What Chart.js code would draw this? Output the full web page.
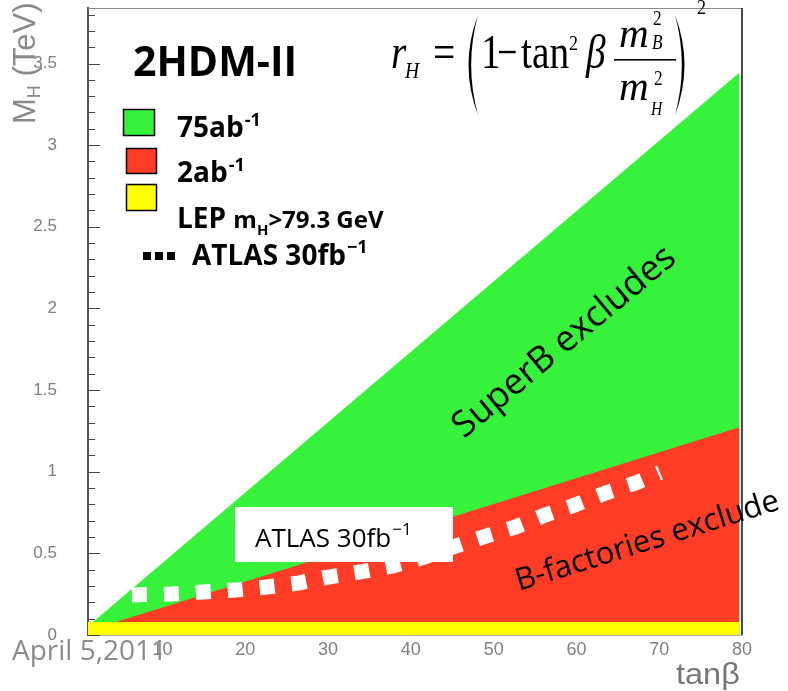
<!DOCTYPE html>
<html>
<head>
<meta charset="utf-8">
<script src="https://cdn.jsdelivr.net/npm/chart.js@4.4.0/dist/chart.umd.min.js"></script>
<style>
  html, body { margin: 0; padding: 0; background: #fff; }
</style>
</head>
<body>
<canvas id="chart" width="788" height="691"></canvas>
<script>
// axis ticks
const xTicks = [10, 20, 30, 40, 50, 60, 70, 80];
const yTicks = [0, 0.5, 1, 1.5, 2, 2.5, 3, 3.5];

// exclusion edges, M_H (TeV) vs tan(beta)
const edgeX = [0, 79.7];
const superBY = [0.01, 3.445]; // 75 ab^-1
const bFactY = [0.01, 1.273];  // 2 ab^-1
const lepX = [1, 79.7];
const lepY = [0.0793, 0.0793]; // LEP m_H > 79.3 GeV

// ATLAS 30 fb^-1 (dashed)
const atlasX = [6.3, 11.0, 14.9, 18.8, 22.6, 26.4, 30.0, 33.9, 37.7, 41.5, 45.1, 48.7, 52.6, 56.2, 59.8, 63.5, 67.1, 70.1];
const atlasY = [0.245, 0.251, 0.263, 0.275, 0.294, 0.318, 0.355, 0.386, 0.422, 0.475, 0.539, 0.600, 0.661, 0.734, 0.796, 0.869, 0.930, 0.995];

const GREEN = "#36f23a";
const RED = "#ff3c26";
const YELLOW = "#ffff00";
const SANS = '"Open Sans", "Noto Sans", sans-serif';
const SERIF = '"Liberation Serif", "DejaVu Serif", serif';

const pts = (xs, ys) => xs.map((x, i) => ({ x, y: ys[i] }));

function txt(ctx, s, x, y, font, color) {
  ctx.font = font;
  ctx.fillStyle = color || "#000";
  ctx.fillText(s, x, y);
  return x + ctx.measureText(s).width;
}

function serifPut(ctx, s, x, y, size, italic, sx) {
  ctx.save();
  ctx.font = (italic ? "italic " : "") + size + "px " + SERIF;
  ctx.translate(x, y);
  ctx.scale(sx || 0.82, 1);
  ctx.fillText(s, 0, 0);
  ctx.restore();
}

function paren(ctx, x0, bulge, top, bot) {
  const mid = (top + bot) / 2;
  ctx.beginPath();
  ctx.moveTo(x0, top);
  ctx.quadraticCurveTo(x0 + bulge, mid, x0, bot);
  ctx.quadraticCurveTo(x0 + bulge * 0.72, mid, x0, top);
  ctx.fill();
}

const decor = {
  id: "decor",
  afterDraw(chart) {
    const { ctx, chartArea: a, scales } = chart;
    const ys = scales.y;
    ctx.save();
    ctx.textAlign = "left";
    ctx.textBaseline = "alphabetic";

    // frame
    ctx.strokeStyle = "#888";
    ctx.lineWidth = 1;
    ctx.beginPath();
    ctx.moveTo(a.left, a.top + 0.5);
    ctx.lineTo(a.right, a.top + 0.5);
    ctx.stroke();
    ctx.strokeStyle = "#111";
    ctx.lineWidth = 1.5;
    ctx.beginPath();
    ctx.moveTo(a.right, a.top);
    ctx.lineTo(a.right, a.bottom);
    ctx.stroke();

    // inward y ticks
    ctx.strokeStyle = "#444";
    ctx.lineWidth = 1;
    for (let i = 0; i <= 38; i++) {
      const y = Math.round(ys.getPixelForValue(i / 10)) + 0.5;
      const len = i % 5 === 0 ? 12 : 7;
      ctx.beginPath();
      ctx.moveTo(a.left, y);
      ctx.lineTo(a.left + len, y);
      ctx.stroke();
    }

    // formula
    ctx.fillStyle = "#000";
    serifPut(ctx, "r", 391, 68, 48, true);
    serifPut(ctx, "H", 405, 78, 24, true);
    serifPut(ctx, "=", 433, 68, 48, false);
    paren(ctx, 478, -19, 15, 115);
    serifPut(ctx, "1", 481, 68, 48, false);
    serifPut(ctx, "\u2212", 497, 68, 48, false, 0.75);
    serifPut(ctx, "tan", 521, 68, 48, false);
    serifPut(ctx, "2", 569, 50, 22, false);
    serifPut(ctx, "\u03b2", 586, 68, 48, true);
    serifPut(ctx, "m", 619, 47, 42, true, 0.98);
    serifPut(ctx, "2", 653, 25, 21, false);
    serifPut(ctx, "B", 652, 49, 21, true);
    ctx.fillRect(614, 59, 62, 1.6);
    serifPut(ctx, "m", 619, 100, 42, true, 0.98);
    serifPut(ctx, "2", 654, 85, 21, false);
    serifPut(ctx, "H", 651, 115, 19, true);
    paren(ctx, 675, 19, 15, 115);
    serifPut(ctx, "2", 697, 14, 22, false);

    // title
    txt(ctx, "2HDM-II", 133, 76, "bold 41px " + SANS);

    // legend
    const box = (x, y, w, h, c) => {
      ctx.fillStyle = c;
      ctx.fillRect(x, y, w, h);
      ctx.strokeStyle = "#000";
      ctx.lineWidth = 1.5;
      ctx.strokeRect(x, y, w, h);
    };
    box(123.5, 109.5, 31, 26, GREEN);
    box(126.5, 148.5, 30, 25, RED);
    box(126.5, 184.5, 30, 26, YELLOW);
    let x = txt(ctx, "75ab", 177, 137, "bold 28px " + SANS);
    txt(ctx, "-1", x + 1, 126, "bold 18px " + SANS);
    x = txt(ctx, "2ab", 177, 182, "bold 28px " + SANS);
    txt(ctx, "-1", x + 1, 171, "bold 18px " + SANS);
    x = txt(ctx, "LEP ", 177, 228, "bold 28px " + SANS);
    x = txt(ctx, "m", x, 228, "bold 24px " + SANS);
    x = txt(ctx, "H", x, 235, "bold 15px " + SANS);
    txt(ctx, ">79.3 GeV", x, 228, "bold 24px " + SANS);
    ctx.fillStyle = "#000";
    ctx.fillRect(143, 252, 8, 8);
    ctx.fillRect(155, 252, 8, 8);
    ctx.fillRect(167, 252, 8, 8);
    x = txt(ctx, "ATLAS 30fb", 192, 265, "bold 28px " + SANS);
    txt(ctx, "\u22121", x + 1, 253, "bold 18px " + SANS);

    // ATLAS box in plot
    ctx.fillStyle = "#fff";
    ctx.fillRect(235, 507, 218, 55);
    x = txt(ctx, "ATLAS 30fb", 255, 547, "26px " + SANS);
    txt(ctx, "\u22121", x + 1, 535, "17px " + SANS);

    // rotated region labels
    ctx.textAlign = "center";
    ctx.save();
    ctx.translate(571, 350);
    ctx.rotate(-39.8 * Math.PI / 180);
    txt(ctx, "SuperB excludes", 0, 0, "36px " + SANS);
    ctx.restore();
    ctx.save();
    ctx.translate(650, 550);
    ctx.rotate(-17.4 * Math.PI / 180);
    txt(ctx, "B-factories exclude", 0, 0, "31px " + SANS);
    ctx.restore();
    ctx.textAlign = "left";

    // axis titles
    ctx.save();
    ctx.translate(35, 124);
    ctx.rotate(-Math.PI / 2);
    x = txt(ctx, "M", 0, 0, '31px "Liberation Sans", sans-serif', "#8a8a8a");
    x = txt(ctx, "H", x, 5, '18px "Liberation Sans", sans-serif', "#8a8a8a");
    txt(ctx, " (TeV)", x, 0, '31px "Liberation Sans", sans-serif', "#8a8a8a");
    ctx.restore();
    ctx.save();
    ctx.translate(676, 684);
    ctx.scale(1.12, 1);
    txt(ctx, "tan\u03b2", 0, 0, '29px "Liberation Sans", sans-serif', "#777");
    ctx.restore();

    // date stamp
    txt(ctx, "April 5,2011", 12, 660, "28px " + SANS, "#8c8c8c");
    ctx.restore();
  }
};

new Chart(document.getElementById("chart"), {
  type: "line",
  data: {
    datasets: [
      { label: "LEP", data: pts(lepX, lepY), fill: "origin", backgroundColor: YELLOW,
        borderColor: "rgba(0,0,0,0)", borderWidth: 0, pointRadius: 0 },
      { label: "ATLAS 30fb-1", data: pts(atlasX, atlasY), fill: false, borderColor: "#fff",
        borderWidth: 15, borderDash: [15, 17], borderCapStyle: "butt", pointRadius: 0 },
      { label: "2ab-1", data: pts(edgeX, bFactY), fill: "origin", backgroundColor: RED,
        borderColor: "rgba(0,0,0,0)", borderWidth: 0, pointRadius: 0 },
      { label: "75ab-1", data: pts(edgeX, superBY), fill: "origin", backgroundColor: GREEN,
        borderColor: "rgba(0,0,0,0)", borderWidth: 0, pointRadius: 0 }
    ]
  },
  options: {
    responsive: false,
    animation: false,
    layout: { autoPadding: false, padding: { top: 8, right: 46, left: 0, bottom: 0 } },
    plugins: { legend: { display: false }, tooltip: { enabled: false } },
    scales: {
      x: {
        type: "linear", min: 1, max: 80,
        grid: { display: false, drawTicks: false },
        border: { display: true, color: "#b0b0b0", width: 1 },
        ticks: { color: "#808080", font: { family: "Liberation Sans", size: 18 }, padding: 4, maxRotation: 0,
                 callback: (v) => String(v) },
        afterBuildTicks: (s) => { s.ticks = xTicks.map((v) => ({ value: v })); },
        afterFit: (s) => { s.height = 56; s.paddingLeft = 0; s.paddingRight = 0; }
      },
      y: {
        type: "linear", min: 0, max: 3.84,
        grid: { display: false, drawTicks: false },
        border: { display: true, color: "#555", width: 2 },
        ticks: { color: "#808080", font: { family: "Liberation Sans", size: 17 }, padding: 31,
                 callback: (v) => String(v) },
        afterBuildTicks: (s) => { s.ticks = yTicks.map((v) => ({ value: v })); },
        afterFit: (s) => { s.width = 88; s.paddingTop = 0; s.paddingBottom = 0; }
      }
    }
  },
  plugins: [decor]
});
</script>
</body>
</html>
